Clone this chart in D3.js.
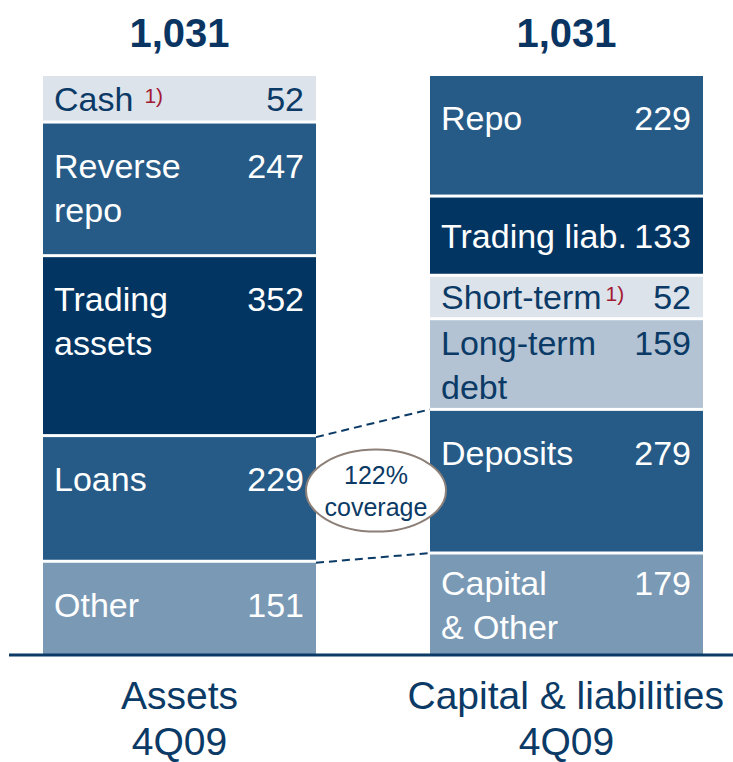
<!DOCTYPE html>
<html>
<head>
<meta charset="utf-8">
<script src="https://cdnjs.cloudflare.com/ajax/libs/d3/7.8.5/d3.min.js"></script>
<style>
    body { margin: 0; background: #fff; }
    svg text { font-family: "Liberation Sans", Arial, Helvetica, sans-serif; }
</style>
</head>
<body>
<div id="chart"></div>
<script>
// Balance sheet 4Q09 (EUR bn)
var assetNames = ["Cash", "Reverse\nrepo", "Trading\nassets", "Loans", "Other"];
var assetValues = [52, 247, 352, 229, 151];
var assetNotes = ["1)", "", "", "", ""];

var liabNames = ["Repo", "Trading liab.", "Short-term", "Long-term\ndebt", "Deposits", "Capital\n& Other"];
var liabValues = [229, 133, 52, 159, 279, 179];
var liabNotes = ["", "", "1)", "", "", ""];

var columnTotals = [1031, 1031];
var columnTitles = ["Assets\n4Q09", "Capital & liabilities\n4Q09"];

// loans covered by deposits
var coverageFrom = "Loans";
var coverageTo = "Deposits";
var coverageText = ["122%", "coverage"];

// shades for each block (style only)
var assetShades = ["light", "blue", "navy", "blue", "steel"];
var liabShades = ["blue", "navy", "light", "pale", "blue", "steel"];
var shadeFill = { light: "#dce3ea", pale: "#b3c3d3", steel: "#7a99b5", blue: "#275b87", navy: "#033563" };
var shadeText = { light: "#0b3a66", pale: "#0b3a66", steel: "#ffffff", blue: "#ffffff", navy: "#ffffff" };
var navy = "#0b3a66";

var svgWidth = 733;
var svgHeight = 762;
var barTop = 76;
var barBottom = 654;
var barWidth = 273;
var colX = [43, 430];
var gap = 3;

var svg = d3.select("#chart")
    .append("svg")
    .attr("width", svgWidth)
    .attr("height", svgHeight);

// value -> block height; each block also gets an equal share of leftover room
var hScale = d3.scaleLinear()
    .domain([0, d3.max(columnTotals)])
    .range([0, 455]);

function stack(names, values, notes, shades) {
    var pad = (barBottom - barTop - hScale(d3.sum(values))) / values.length;
    var y = barTop;
    return values.map(function(v, i) {
        var h = hScale(v) + pad;
        var seg = { name: names[i], value: v, note: notes[i], shade: shades[i], y0: y, y1: y + h, last: i === values.length - 1 };
        y += h;
        return seg;
    });
}

var columns = [
    stack(assetNames, assetValues, assetNotes, assetShades),
    stack(liabNames, liabValues, liabNotes, liabShades)
];

columns.forEach(function(segs, c) {
    var x0 = colX[c];
    var g = svg.append("g");

    // blocks
    g.selectAll("rect")
        .data(segs)
        .enter()
        .append("rect")
        .attr("x", x0)
        .attr("y", d => d.y0)
        .attr("width", barWidth)
        .attr("height", d => d.y1 - d.y0 - (d.last ? 0 : gap))
        .attr("fill", d => shadeFill[d.shade]);

    // labels + values
    segs.forEach(function(d) {
        var lines = d.name.split("\n");
        var h = d.y1 - d.y0 - (d.last ? 0 : gap);
        var base = d.y0 + Math.min(54, h / 2 + 12.5 - (lines.length - 1) * 22);
        var col = shadeText[d.shade];

        lines.forEach(function(line, k) {
            var t = g.append("text")
                .attr("x", x0 + 11)
                .attr("y", base + k * 44)
                .attr("font-size", 34)
                .attr("fill", col)
                .text(line);
            if (k === 0 && d.note) {
                var w = t.node().getComputedTextLength();
                g.append("text")
                    .attr("x", x0 + 11 + w + (c === 0 ? 11 : 4))
                    .attr("y", base - 8)
                    .attr("font-size", 21)
                    .attr("fill", "#a31a35")
                    .text(d.note);
            }
        });

        g.append("text")
            .attr("x", x0 + barWidth - 12)
            .attr("y", base)
            .attr("text-anchor", "end")
            .attr("font-size", 34)
            .attr("fill", col)
            .text(d.value);
    });

    // total on top
    svg.append("text")
        .attr("x", x0 + barWidth / 2)
        .attr("y", 47)
        .attr("text-anchor", "middle")
        .attr("font-size", 40)
        .attr("font-weight", "bold")
        .attr("fill", "#0a3563")
        .text(d3.format(",")(columnTotals[c]));

    // column title below baseline
    columnTitles[c].split("\n").forEach(function(line, k) {
        var t = svg.append("text")
            .attr("x", x0 + barWidth / 2)
            .attr("y", 709 + k * 46)
            .attr("text-anchor", "middle")
            .attr("font-size", 39)
            .attr("fill", navy)
            .text(line);
        var w = t.node().getComputedTextLength();
        var cx = Math.min(x0 + barWidth / 2, svgWidth - 9 - w / 2);
        t.attr("x", cx);
    });
});

// baseline rule
svg.append("line")
    .attr("x1", 9)
    .attr("x2", svgWidth)
    .attr("y1", barBottom + 1)
    .attr("y2", barBottom + 1)
    .attr("stroke", navy)
    .attr("stroke-width", 3);

// coverage connectors: loans block -> deposits block
var from = columns[0].find(d => d.name === coverageFrom);
var to = columns[1].find(d => d.name === coverageTo);
var xL = colX[0] + barWidth;
var xR = colX[1];
var ends = [[from.y0, to.y0 - 1.5], [from.y1, to.y1 - 1.5]];

svg.selectAll(".conn")
    .data(ends)
    .enter()
    .append("line")
    .attr("class", "conn")
    .attr("x1", xL)
    .attr("y1", d => d[0])
    .attr("x2", xR)
    .attr("y2", d => d[1])
    .attr("stroke", navy)
    .attr("stroke-width", 2)
    .attr("stroke-dasharray", "8,5");

var ex = (xL + xR) / 2 + 3;
var ey = d3.mean(ends, d => (d[0] + d[1]) / 2);

svg.append("ellipse")
    .attr("cx", ex)
    .attr("cy", ey)
    .attr("rx", 70)
    .attr("ry", 41)
    .attr("fill", "#fff")
    .attr("stroke", "#8c8079")
    .attr("stroke-width", 2);

svg.append("text")
    .attr("x", ex)
    .attr("y", ey - 7)
    .attr("text-anchor", "middle")
    .attr("font-size", 25)
    .attr("fill", navy)
    .text(coverageText[0]);

svg.append("text")
    .attr("x", ex)
    .attr("y", ey + 25)
    .attr("text-anchor", "middle")
    .attr("font-size", 25)
    .attr("fill", navy)
    .text(coverageText[1]);
</script>
</body>
</html>
